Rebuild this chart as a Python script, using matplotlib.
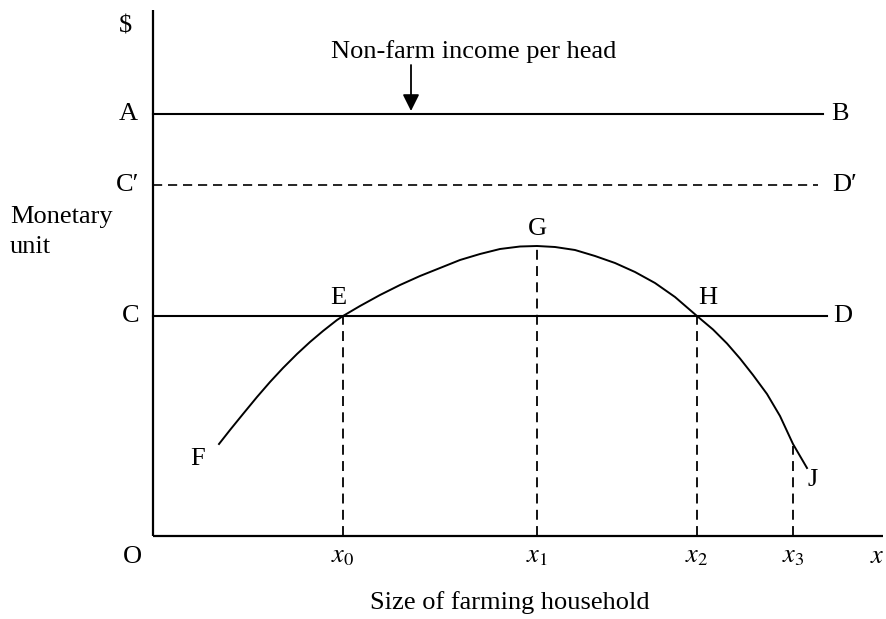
import numpy as np
import matplotlib.pyplot as plt

plt.rcParams['font.family'] = ['Liberation Serif', 'DejaVu Serif']
plt.rcParams['mathtext.fontset'] = 'stix'

# curve F-E-G-H-J
curve_x = [6.6, 7.7, 9.0, 10.4, 11.7, 13.0, 14.4, 15.7, 17.0, 18.4, 19.0,
           20.7, 22.7, 24.7, 26.7, 28.7, 30.7, 32.7, 34.7, 36.7, 38.4,
           40.2, 42.2, 44.2, 46.2, 48.2, 50.2, 52.2, 54.4,
           56.0, 57.4, 58.7, 60.0, 61.4, 62.7, 64.0, 65.4]
curve_y = [9.2, 10.6, 12.2, 13.9, 15.4, 16.8, 18.2, 19.4, 20.5, 21.6, 22.0,
           23.0, 24.1, 25.1, 26.0, 26.8, 27.6, 28.2, 28.7, 28.95, 29.0,
           28.9, 28.6, 28.0, 27.3, 26.4, 25.3, 23.9, 22.0,
           20.65, 19.25, 17.75, 16.1, 14.2, 12.0, 9.2, 6.8]

# horizontal levels
level_ab = 42.2
level_cd_prime = 35.1
level_cd = 22.0
end_ab, end_cdp, end_cd = 67.0, 66.5, 67.4

# x markers and the height of the dashed drop lines
x_ticks = [19.0, 38.4, 54.4, 64.0]
x_tick_labels = [r'$x_0$', r'$x_1$', r'$x_2$', r'$x_3$']
drop_tops = [22.0, 29.0, 22.0, 9.0]

fig = plt.figure(figsize=(8.86, 6.19), dpi=100)
ax = fig.add_axes([0, 0, 1, 1])
ax.set_xlim(-15.3, 73.3)
ax.set_ylim(-8.3, 53.6)
ax.axis('off')

# axes
ax.plot([0, 73.0], [0, 0], color='black', lw=1.6, solid_capstyle='butt')
ax.plot([0, 0], [0, 52.6], color='black', lw=1.6, solid_capstyle='butt')

ax.plot([0, end_ab], [level_ab, level_ab], color='black', lw=1.5)
ax.plot([0, end_cdp], [level_cd_prime, level_cd_prime], color='black', lw=1.2,
        dashes=(5.5, 3.5))
ax.plot([0, end_cd], [level_cd, level_cd], color='black', lw=1.5)

ax.plot(curve_x, curve_y, color='black', lw=1.4)

for xv, top in zip(x_ticks, drop_tops):
    ax.plot([xv, xv], [0, top], color='black', lw=1.3, dashes=(5.5, 3.5))

fs = 19
for xv, lab in zip(x_ticks, x_tick_labels):
    ax.text(xv, -2.1, lab, ha='center', va='center', fontsize=fs)
ax.text(72.4, -2.1, r'$x$', ha='center', va='center', fontsize=fs)
ax.text(-2.1, -2.1, 'O', ha='center', va='center', fontsize=fs)

ax.text(-2.8, 50.9, '$', ha='center', va='center', fontsize=fs)
ax.text(-2.5, level_ab, 'A', ha='center', va='center', fontsize=fs)
ax.text(-2.5, level_cd_prime, 'C\u2032', ha='center', va='center', fontsize=fs)
ax.text(-2.2, level_cd, 'C', ha='center', va='center', fontsize=fs)
ax.text(68.7, level_ab, 'B', ha='center', va='center', fontsize=fs)
ax.text(69.2, level_cd_prime, 'D\u2032', ha='center', va='center', fontsize=fs)
ax.text(69.0, level_cd, 'D', ha='center', va='center', fontsize=fs)

ax.text(18.5, 23.8, 'E', ha='center', va='center', fontsize=fs)
ax.text(38.4, 30.7, 'G', ha='center', va='center', fontsize=fs)
ax.text(55.5, 23.8, 'H', ha='center', va='center', fontsize=fs)
ax.text(4.5, 7.7, 'F', ha='center', va='center', fontsize=fs)
ax.text(66.0, 5.6, 'J', ha='center', va='center', fontsize=fs)

ax.text(-14.3, 30.4, 'Monetary\nunit', ha='left', va='center', fontsize=fs,
        linespacing=1.45)
ax.text(35.7, -6.7, 'Size of farming household', ha='center', va='center', fontsize=fs)
ax.text(32.1, 48.4, 'Non-farm income per head', ha='center', va='center', fontsize=fs)

ax.annotate('', xy=(25.8, 42.5), xytext=(25.8, 47.1),
            arrowprops=dict(arrowstyle='-|>', color='black', lw=1.3,
                            mutation_scale=25, shrinkA=0, shrinkB=0))

fig.savefig('out.png', dpi=100)
